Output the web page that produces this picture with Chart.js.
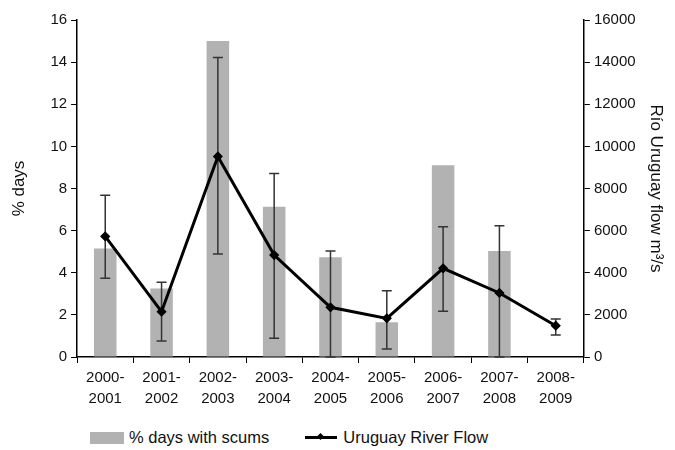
<!DOCTYPE html>
<html>
<head>
<meta charset="utf-8">
<script src="https://cdn.jsdelivr.net/npm/chart.js@4"></script>
<style>
  body { margin: 0; background: #fff; font-family: "Liberation Sans", Arial, sans-serif; }
  #wrap { width: 675px; height: 450px; position: relative; }
  #legend { position: absolute; top: 428px; left: 90px; font-size: 16.5px; color: #111; display: flex; align-items: center; }
  .box { width: 34px; height: 12px; background: #b2b2b2; display: inline-block; margin-right: 5px; }
  .ln { width: 32px; height: 3px; background: #000; display: inline-block; margin: 0 6px 0 36px; position: relative; }
  .ln::after { content: ""; position: absolute; left: 13px; top: -2px; width: 5px; height: 5px; background: #000; transform: rotate(45deg); }
</style>
</head>
<body>
<div id="wrap">
  <canvas id="chart" width="675" height="420"></canvas>
  <div id="legend"><span class="box"></span>% days with scums<span class="ln"></span>Uruguay River Flow</div>
</div>
<script>
// Seasons on the x axis (two-line labels)
const seasons = [
    ['2000-', '2001'], ['2001-', '2002'], ['2002-', '2003'], ['2003-', '2004'], ['2004-', '2005'],
    ['2005-', '2006'], ['2006-', '2007'], ['2007-', '2008'], ['2008-', '2009']
];
// % days with scums (left axis)
const scumDays = [5.15, 3.25, 15.0, 7.13, 4.73, 1.65, 9.1, 5.03, 0];
// Uruguay River flow m3/s (right axis) and its error range
const riverFlow = [5725, 2150, 9520, 4840, 2360, 1835, 4210, 3040, 1485];
const flowLow = [3735, 760, 4890, 890, 0, 380, 2170, 0, 1040];
const flowHigh = [7685, 3545, 14220, 8715, 5030, 3145, 6180, 6230, 1800];

// Draws the vertical error bars of the flow series under the line
const errorBars = {
    id: 'errorBars',
    beforeDatasetDraw(chart, args) {
        if (args.meta.type !== 'line') return;
        const ctx = chart.ctx;
        const y = chart.scales.y1;
        ctx.save();
        ctx.strokeStyle = '#333';
        ctx.lineWidth = 1.5;
        args.meta.data.forEach((pt, i) => {
            const top = y.getPixelForValue(flowHigh[i]);
            const bot = y.getPixelForValue(flowLow[i]);
            ctx.beginPath();
            ctx.moveTo(pt.x, top); ctx.lineTo(pt.x, bot);
            ctx.moveTo(pt.x - 5, top); ctx.lineTo(pt.x + 5, top);
            ctx.moveTo(pt.x - 5, bot); ctx.lineTo(pt.x + 5, bot);
            ctx.stroke();
        });
        ctx.restore();
    }
};

Chart.defaults.font.family = '"Liberation Sans", Arial, sans-serif';
Chart.defaults.color = '#111';

const ctx = document.getElementById('chart').getContext('2d');
const chart = new Chart(ctx, {
    data: {
        labels: seasons,
        datasets: [{
            type: 'line',
            label: 'Uruguay River Flow',
            data: riverFlow,
            yAxisID: 'y1',
            borderColor: '#000',
            backgroundColor: '#000',
            borderWidth: 3,
            pointStyle: 'rectRot',
            pointRadius: 3,
            tension: 0,
            order: 0
        }, {
            type: 'bar',
            label: '% days with scums',
            data: scumDays,
            yAxisID: 'y',
            backgroundColor: '#b2b2b2',
            categoryPercentage: 1,
            barPercentage: 0.4,
            order: 1
        }]
    },
    options: {
        responsive: false,
        animation: false,
        layout: { padding: { top: 20, left: 3, right: 3, bottom: 7 } },
        plugins: { legend: { display: false }, tooltip: { enabled: false } },
        scales: {
            x: {
                offset: true,
                grid: { offset: true, drawOnChartArea: false, color: '#000', tickLength: 6 },
                border: { color: '#000', width: 1.5 },
                ticks: {
                    font: { size: 15, lineHeight: 1.4 },
                    padding: 4, maxRotation: 0
                }
            },
            y: {
                position: 'left',
                min: 0, max: 16,
                ticks: { stepSize: 2, font: { size: 15 }, padding: 4 },
                grid: { drawOnChartArea: false, color: '#000', tickLength: 6 },
                border: { color: '#000', width: 1.5 },
                title: { display: true, text: '% days', font: { size: 17 }, padding: { top: 6, bottom: 17 } }
            },
            y1: {
                position: 'right',
                min: 0, max: 16000,
                ticks: { stepSize: 2000, font: { size: 15 }, padding: 4, callback: v => String(v) },
                grid: { drawOnChartArea: false, color: '#000', tickLength: 6 },
                border: { color: '#000', width: 1.5 },
                title: { display: true, text: 'Río Uruguay flow m³/s', font: { size: 17 }, padding: 6 }
            }
        }
    },
    plugins: [errorBars]
});
</script>
</body>
</html>
